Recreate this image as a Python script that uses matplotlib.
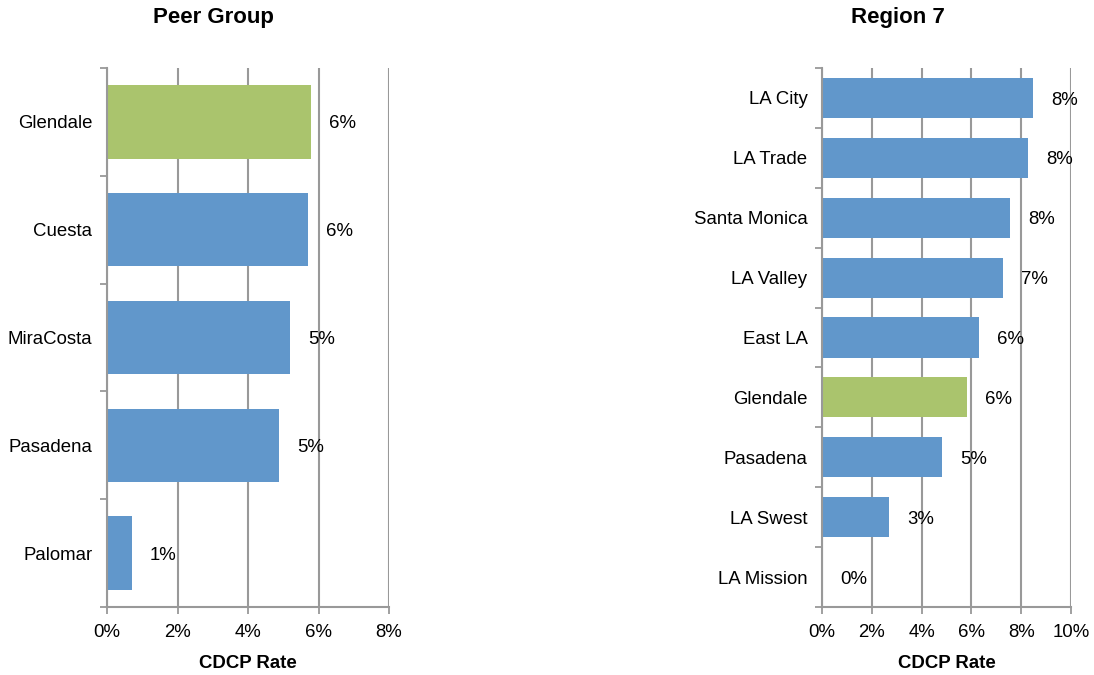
import matplotlib
matplotlib.use("Agg")
import matplotlib.pyplot as plt

plt.rcParams['font.family'] = ['Liberation Sans', 'DejaVu Sans']

peer_names = ["Glendale", "Cuesta", "MiraCosta", "Pasadena", "Palomar"]
peer_values = [5.79, 5.70, 5.19, 4.88, 0.71]
peer_colors = ["#AAC46D", "#6197CB", "#6197CB", "#6197CB", "#6197CB"]
peer_ticks = [0, 2, 4, 6, 8]

region_names = ["LA City", "LA Trade", "Santa Monica", "LA Valley", "East LA",
                "Glendale", "Pasadena", "LA Swest", "LA Mission"]
region_values = [8.47, 8.27, 7.55, 7.27, 6.31, 5.82, 4.82, 2.69, 0.0]
region_colors = ["#6197CB"] * 5 + ["#AAC46D"] + ["#6197CB"] * 3
region_ticks = [0, 2, 4, 6, 8, 10]

GRID = "#999999"
FS = 13.4

fig = plt.figure(figsize=(10.94, 6.75), dpi=100)
ax1 = fig.add_axes([107/1094, 68/675, 282/1094, 539/675])
ax2 = fig.add_axes([822/1094, 68/675, 249/1094, 539/675])


def draw(ax, names, values, colors, ticks, height):
    n = len(names)
    pos = list(range(n))
    ax.set_axisbelow(True)
    ax.barh(pos, values, height=height, color=colors, edgecolor='none', zorder=2)
    ax.set_xlim(ticks[0], ticks[-1])
    ax.set_ylim(n - 0.5, -0.5)
    ax.set_xticks(ticks)
    ax.set_xticklabels([f"{t}%" for t in ticks], fontsize=FS)
    ax.set_yticks([i - 0.5 for i in range(n + 1)])
    ax.set_yticklabels([])
    ax.set_yticks(pos, minor=True)
    ax.set_yticklabels(names, minor=True, fontsize=FS)
    ax.tick_params(axis='y', which='major', length=5, color=GRID, width=1.3)
    ax.tick_params(axis='y', which='minor', length=0, pad=10.5)
    ax.tick_params(axis='x', length=5, color=GRID, width=1.3, pad=7)
    ax.xaxis.grid(True, color=GRID, linewidth=1.5, zorder=0)
    for s in ['top', 'right']:
        ax.spines[s].set_visible(False)
    for s in ['left', 'bottom']:
        ax.spines[s].set_color(GRID)
        ax.spines[s].set_linewidth(1.5)
    for i, v in enumerate(values):
        ax.annotate(f"{round(v):.0f}%", xy=(v, i), xytext=(13, -1.5),
                    textcoords='offset points', ha='left', va='center',
                    fontsize=FS, zorder=3)
    ax.set_xlabel("CDCP Rate", fontsize=FS, fontweight='bold', labelpad=10)


draw(ax1, peer_names, peer_values, peer_colors, peer_ticks, 0.68)
draw(ax2, region_names, region_values, region_colors, region_ticks, 0.67)

fig.text(213/1094, 1 - 18/675, "Peer Group", ha='center', va='center',
         fontsize=16, fontweight='bold')
fig.text(898/1094, 1 - 18/675, "Region 7", ha='center', va='center',
         fontsize=16, fontweight='bold')

fig.savefig("out.png", dpi=100)
